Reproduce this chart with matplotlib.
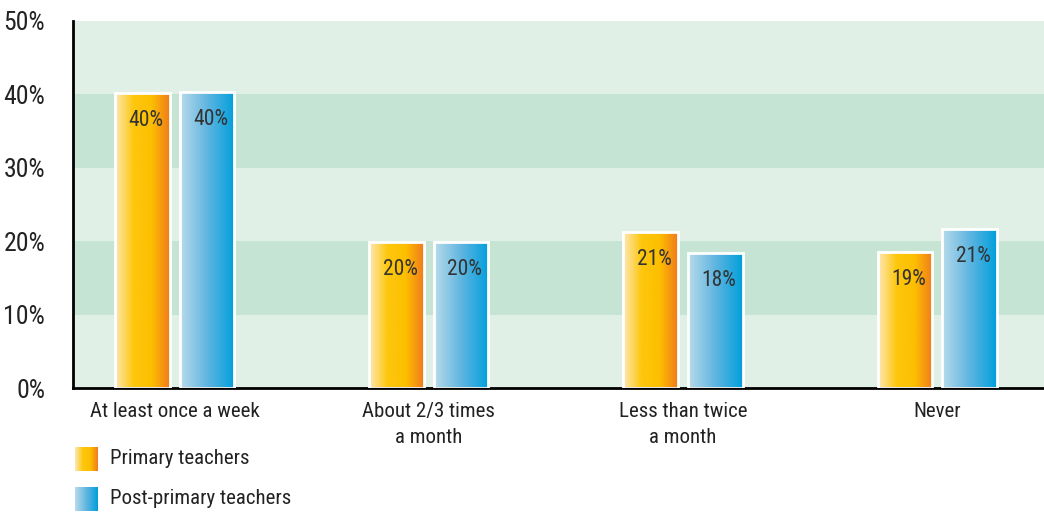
import numpy as np
import matplotlib
matplotlib.use("Agg")
import matplotlib.pyplot as plt
from matplotlib.colors import LinearSegmentedColormap
from matplotlib import font_manager

categories = ["At least once a week", "About 2/3 times\na month", "Less than twice\na month", "Never"]
primary = [40.2, 19.9, 21.2, 18.5]
post_primary = [40.3, 19.9, 18.4, 21.6]
primary_labels = ["40%", "20%", "21%", "19%"]
post_labels = ["40%", "20%", "18%", "21%"]
series_names = ["Primary teachers", "Post-primary teachers"]
yticks = [0, 10, 20, 30, 40, 50]

names = {f.name for f in font_manager.fontManager.ttflist}
stretch = "normal"
fam = None
for cand in ["Roboto Condensed", "Liberation Sans Narrow", "Open Sans Condensed", "Noto Sans Condensed"]:
    if cand in names:
        fam = cand
        break
if fam is None:
    fam = "DejaVu Sans"
    stretch = "condensed"
plt.rcParams['font.family'] = [fam, 'DejaVu Sans']
plt.rcParams['font.stretch'] = stretch
plt.rcParams['font.weight'] = 'normal'

cmap_p = LinearSegmentedColormap.from_list("p", ["#fee8b8", "#fdc70e", "#fdbf00", "#f07a1c"])
cmap_q = LinearSegmentedColormap.from_list("q", ["#b9dbeb", "#5fb5e0", "#009fdc"])
grad = np.linspace(0, 1, 256).reshape(1, -1)

W, H = 1044, 512
fig = plt.figure(figsize=(W / 100, H / 100), dpi=100)
ax = fig.add_axes([73 / W, (512 - 388) / H, (1044 - 73) / W, (388 - 21) / H])
ax.set_xlim(-0.40, 3.42)
ax.set_ylim(0, 50)

light = "#e1f0e7"
dark = "#c6e4d3"
for i in range(5):
    ax.axhspan(i * 10, (i + 1) * 10, color=dark if i % 2 == 1 else light, lw=0, zorder=0)

x = np.arange(len(categories))
bw = 0.215
off = 0.127
for vals, labs, xs, cmap in [(primary, primary_labels, x - off, cmap_p),
                             (post_primary, post_labels, x + off, cmap_q)]:
    bars = ax.bar(xs, vals, width=bw, facecolor="none", edgecolor="white", linewidth=2, zorder=3)
    for b, lab in zip(bars, labs):
        x0, y0 = b.get_x(), b.get_y()
        im = ax.imshow(grad, cmap=cmap, aspect="auto",
                       extent=[x0, x0 + b.get_width(), y0, y0 + b.get_height()], zorder=2)
        im.set_clip_path(b)
        ax.text(x0 + b.get_width() / 2 + 0.015, b.get_height() - 3.7, lab, ha="center", va="center",
                fontsize=15.5, color="#333333", zorder=4)

ax.set_xlim(-0.40, 3.42)
ax.set_ylim(0, 50)
ax.set_xticks(x)
ax.set_xticklabels(categories, fontsize=15, color="#222222", linespacing=1.5)
ax.set_yticks(yticks)
ax.set_yticklabels([f"{t}%" for t in yticks], fontsize=18.5, color="#222222")
ax.tick_params(axis="both", length=0)
ax.tick_params(axis="y", pad=20)
ax.tick_params(axis="x", pad=10)
for s in ["top", "right"]:
    ax.spines[s].set_visible(False)
ax.spines["left"].set_linewidth(2)
ax.spines["bottom"].set_linewidth(2)

for i, (name, cmap) in enumerate(zip(series_names, [cmap_p, cmap_q])):
    ytop = 447 + i * 40
    lax = fig.add_axes([75 / W, (512 - ytop - 24) / H, 23 / W, 24 / H])
    lax.imshow(grad, cmap=cmap, aspect="auto")
    lax.axis("off")
    fig.text(110 / W, (512 - ytop - 12) / H, name, fontsize=15, color="#222222", va="center")

fig.savefig("out.png", dpi=100)
